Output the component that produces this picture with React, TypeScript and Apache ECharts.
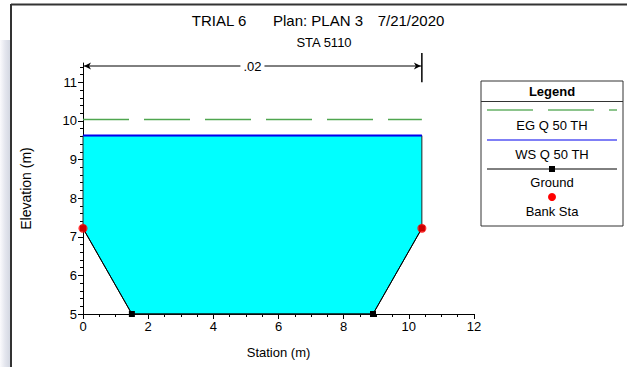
import React, { useEffect, useRef } from "react";
import * as echarts from "echarts";

// ---- data ----
const groundX = [0, 1.5, 8.9, 10.4];
const groundY = [7.22, 5.0, 5.0, 7.22];
const bankX = [0, 10.4];
const bankY = [7.22, 7.22];
const wsElev = 9.62;
const egElev = 10.04;
const nValue = ".02";
const xTicks = { min: 0, max: 12, interval: 2 };
const yTicks = { min: 5, max: 11.5, interval: 1 };
const yTickValues = [5, 6, 7, 8, 9, 10, 11];
const titleParts = ["TRIAL 6", "Plan: PLAN 3", "7/21/2020"];
const subTitle = "STA 5110";
const legendItems = ["EG Q 50 TH", "WS Q 50 TH", "Ground", "Bank Sta"];

const FONT = "'Liberation Sans', Arial, sans-serif";

export default function App() {
  const ref = useRef<HTMLDivElement>(null);
  useEffect(() => {
    document.body.style.margin = "0";
    const chart = echarts.init(ref.current!, null, { renderer: "svg" });
    const groundPts = groundX.map((x, i) => [x, groundY[i]]);
    const waterPoly = [
      [groundX[0], wsElev],
      ...groundPts,
      [groundX[groundX.length - 1], wsElev],
    ];
    const xL = groundX[0];
    const xR = groundX[groundX.length - 1];
    chart.setOption({
      animation: false,
      backgroundColor: "#fff",
      grid: { left: 83, top: 63, right: 153, bottom: 53 },
      xAxis: {
        type: "value",
        min: xTicks.min,
        max: xTicks.max,
        interval: xTicks.interval,
        name: "Station (m)",
        nameLocation: "middle",
        nameGap: 32,
        nameTextStyle: { fontFamily: FONT, fontSize: 13, color: "#000" },
        axisLine: { lineStyle: { color: "#000", width: 1 } },
        axisTick: { length: 5, lineStyle: { color: "#000" } },
        minorTick: { show: true, splitNumber: 4, length: 3, lineStyle: { color: "#000" } },
        axisLabel: { fontFamily: FONT, fontSize: 13, color: "#000", margin: 6 },
        splitLine: { show: false },
      },
      yAxis: {
        type: "value",
        min: yTicks.min,
        max: yTicks.max,
        interval: yTicks.interval,
        name: "Elevation (m)",
        nameLocation: "middle",
        nameGap: 50,
        nameRotate: 90,
        nameTextStyle: { fontFamily: FONT, fontSize: 14, color: "#000" },
        axisLine: { show: true, lineStyle: { color: "#000", width: 1 } },
        axisTick: { length: 5, lineStyle: { color: "#000" }, customValues: yTickValues },
        minorTick: { show: true, splitNumber: 5, length: 3, lineStyle: { color: "#000" } },
        axisLabel: {
          fontFamily: FONT,
          fontSize: 13,
          color: "#000",
          margin: 6,
          customValues: yTickValues,
          formatter: (v: number) => (Number.isInteger(v) ? String(v) : ""),
        },
        splitLine: { show: false },
      },
      series: [
        {
          type: "custom",
          z: 1,
          data: [waterPoly[0]],
          renderItem: (_p: any, api: any) => ({
            type: "polygon",
            shape: { points: waterPoly.map((p) => api.coord(p)) },
            style: { fill: "#00ffff", stroke: "#222", lineWidth: 1 },
          }),
        },
        {
          type: "line",
          z: 2,
          data: [[xL, egElev], [xR, egElev]],
          symbol: "none",
          lineStyle: { color: "#4fa64f", width: 1.5, type: [46, 15] },
        },
        {
          type: "line",
          z: 3,
          data: [[xL, wsElev], [xR, wsElev]],
          symbol: "none",
          lineStyle: { color: "#0000ee", width: 2 },
        },
        {
          type: "line",
          z: 4,
          data: groundPts,
          symbol: "rect",
          symbolSize: 6,
          showSymbol: true,
          itemStyle: { color: "#000" },
          lineStyle: { color: "#000", width: 1 },
        },
        {
          type: "scatter",
          z: 5,
          data: bankX.map((x, i) => [x, bankY[i]]),
          symbol: "circle",
          symbolSize: 9,
          itemStyle: { color: "#ff0000" },
        },
      ],
    });

    const pL = chart.convertToPixel({ gridIndex: 0 }, [xL, 11]) as number[];
    const pR = chart.convertToPixel({ gridIndex: 0 }, [xR, 11]) as number[];
    const arrowY = 66;
    const mid = (pL[0] + pR[0]) / 2;
    const lx = 481, ly = 81, lw = 142, lh = 145, lc = lx + lw / 2;
    const txt = (x: number, y: number, s: string, size = 13, weight = "normal") => ({
      type: "text",
      x,
      y,
      style: {
        text: s,
        fontFamily: FONT,
        fontSize: size,
        fontWeight: weight,
        fill: "#000",
        align: "center",
        verticalAlign: "middle",
      },
    });
    chart.setOption({
      graphic: [
        // frame
        {
          type: "rect",
          shape: { x: 0, y: 40, width: 10, height: 327 },
          style: {
            fill: new echarts.graphic.LinearGradient(0, 0, 1, 0, [
              { offset: 0, color: "#fbfbfd" },
              { offset: 0.5, color: "#e4e6ee" },
              { offset: 1, color: "#d4d8e2" },
            ]),
          },
        },
        { type: "line", shape: { x1: 11, y1: 4.5, x2: 627, y2: 4.5 }, style: { stroke: "#333", lineWidth: 2 } },
        { type: "line", shape: { x1: 11, y1: 4, x2: 11, y2: 367 }, style: { stroke: "#333", lineWidth: 2 } },
        // titles
        txt(219, 20, titleParts[0], 15),
        txt(318, 20, titleParts[1], 15),
        txt(411, 20, titleParts[2], 15),
        txt(324, 42, subTitle, 13),
        // bank marker + n-value arrow
        { type: "line", shape: { x1: pR[0], y1: 53, x2: pR[0], y2: pR[1] }, style: { stroke: "#000", lineWidth: 1.5 } },
        { type: "line", shape: { x1: pL[0], y1: arrowY, x2: pR[0], y2: arrowY }, style: { stroke: "#000", lineWidth: 1 } },
        {
          type: "polygon",
          shape: { points: [[pL[0] + 1, arrowY], [pL[0] + 8, arrowY - 3.5], [pL[0] + 6, arrowY], [pL[0] + 8, arrowY + 3.5]] },
          style: { fill: "#000" },
        },
        {
          type: "polygon",
          shape: { points: [[pR[0] - 1, arrowY], [pR[0] - 8, arrowY - 3.5], [pR[0] - 6, arrowY], [pR[0] - 8, arrowY + 3.5]] },
          style: { fill: "#000" },
        },
        {
          type: "text",
          x: mid,
          y: arrowY,
          style: {
            text: nValue,
            fontFamily: FONT,
            fontSize: 13,
            fill: "#000",
            align: "center",
            verticalAlign: "middle",
            backgroundColor: "#fff",
            padding: [0, 3],
          },
        },
        // legend
        { type: "rect", shape: { x: lx, y: ly, width: lw, height: lh }, style: { fill: "#fff", stroke: "#333", lineWidth: 1 } },
        txt(lc, 91, "Legend", 13, "bold"),
        { type: "line", shape: { x1: lx, y1: 101.5, x2: lx + lw, y2: 101.5 }, style: { stroke: "#333", lineWidth: 1 } },
        { type: "line", shape: { x1: 487, y1: 110, x2: 617, y2: 110 }, style: { stroke: "#1a8a1a", lineWidth: 1, lineDash: [46, 15] } },
        txt(lc, 125, legendItems[0]),
        { type: "line", shape: { x1: 487, y1: 140, x2: 617, y2: 140 }, style: { stroke: "#0000ee", lineWidth: 1.2 } },
        txt(lc, 154, legendItems[1]),
        { type: "line", shape: { x1: 487, y1: 169, x2: 617, y2: 169 }, style: { stroke: "#000", lineWidth: 1 } },
        { type: "rect", shape: { x: lc - 3, y: 166, width: 6, height: 6 }, style: { fill: "#000" } },
        txt(lc, 182, legendItems[2]),
        { type: "circle", shape: { cx: lc, cy: 197, r: 4 }, style: { fill: "#ff0000" } },
        txt(lc, 211, legendItems[3]),
      ],
    });
    return () => chart.dispose();
  }, []);
  return <div ref={ref} style={{ position: "fixed", left: 0, top: 0, width: 627, height: 367 }} />;
}
